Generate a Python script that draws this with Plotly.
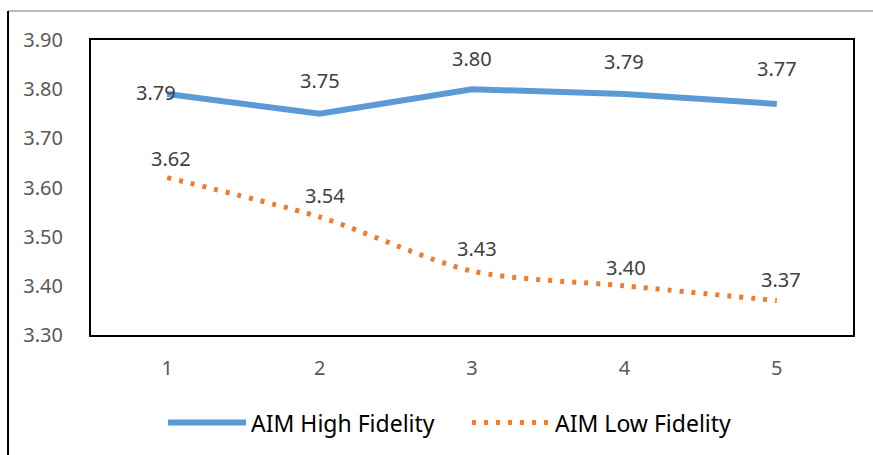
import plotly.graph_objects as go

# Category positions and the two series
categories = ["1", "2", "3", "4", "5"]
high_fidelity = [3.79, 3.75, 3.80, 3.79, 3.77]
low_fidelity = [3.62, 3.54, 3.43, 3.40, 3.37]
y_ticks = [3.30, 3.40, 3.50, 3.60, 3.70, 3.80, 3.90]

BLUE = "#5B9BD5"
ORANGE = "#ED7D31"
FONT = "Noto Sans"

fig = go.Figure()
fig.add_trace(go.Scatter(
    x=categories, y=high_fidelity, mode="lines", name="AIM High Fidelity",
    line=dict(color=BLUE, width=6),
))
fig.add_trace(go.Scatter(
    x=categories, y=low_fidelity, mode="lines", name="AIM Low Fidelity",
    line=dict(color=ORANGE, width=5, dash="4px,8px", shape="spline", smoothing=0.8),
))

# Data labels: (xshift, yshift) per point in px
high_offsets = [(-11, 2), (0, 33), (0, 31), (0, 33), (0, 35)]
low_offsets = [(4, 19), (5, 22), (5, 23), (2, 18), (4, 21)]
annotations = []
for vals, offs in ((high_fidelity, high_offsets), (low_fidelity, low_offsets)):
    for i, (v, (dx, dy)) in enumerate(zip(vals, offs)):
        annotations.append(dict(
            x=i, y=v, text=f"{v:.2f}", showarrow=False,
            xshift=dx, yshift=dy, font=dict(family=FONT, size=20, color="#404040"),
        ))

# Outer chart frame: grey top edge and black left edge
shapes = [
    dict(type="line", xref="paper", yref="paper", x0=-0.1089, x1=1.03,
         y0=1.0983, y1=1.0983, line=dict(color="#A6A6A6", width=1.5)),
    dict(type="line", xref="paper", yref="paper", x0=-0.1089, x1=-0.1089,
         y0=1.0983, y1=-0.42, line=dict(color="black", width=2)),
]

fig.update_layout(
    width=873, height=455,
    margin=dict(l=91, r=20, t=40, b=120, autoexpand=False),
    paper_bgcolor="white", plot_bgcolor="white",
    font=dict(family=FONT, size=20, color="#595959"),
    showlegend=True,
    legend=dict(
        orientation="h", x=0.0945, xanchor="left", y=-0.224, yanchor="top",
        font=dict(family=FONT, size=23, color="black"), itemwidth=78,
        entrywidth=211, traceorder="normal",
    ),
    annotations=annotations,
    shapes=shapes,
)
fig.update_xaxes(
    type="category", range=[-0.5, 4.5], showgrid=False, zeroline=False,
    showline=True, mirror=True, linecolor="black", linewidth=2,
    ticks="", ticklabelstandoff=14,
    tickfont=dict(family=FONT, size=20, color="#595959"),
)
fig.update_yaxes(
    range=[3.30, 3.90], tickvals=y_ticks, ticktext=[f"{t:.2f}" for t in y_ticks],
    showgrid=False, zeroline=False, showline=True, mirror=True,
    linecolor="black", linewidth=2, ticks="", ticklabelstandoff=22,
    tickfont=dict(family=FONT, size=20, color="#595959"),
)

fig.write_html("out.html")
